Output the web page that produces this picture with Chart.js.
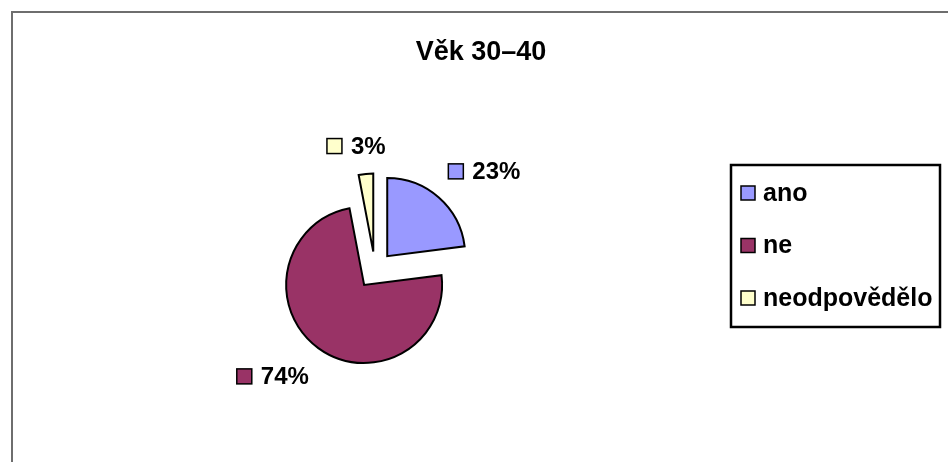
<!DOCTYPE html>
<html>
<head>
<meta charset="utf-8">
<title>Věk 30–40</title>
<script src="https://cdn.jsdelivr.net/npm/chart.js@4/dist/chart.umd.min.js"></script>
<style>
  html, body { margin: 0; padding: 0; background: #fff; }
  #wrap { width: 948px; height: 462px; }
</style>
</head>
<body>
<div id="wrap"><canvas id="pie"></canvas></div>
<script>
// Věk 30–40 — exploded pie with outside labels and boxed legend
const TITLE = 'Věk 30–40';
const categories = ['ano', 'ne', 'neodpovědělo'];
const shares = [23, 74, 3];
const sliceColors = ['#9999ff', '#993366', '#ffffcc'];

const FONT = '"Liberation Sans", Arial, sans-serif';
const EXPLODE = 18.5;   // every slice pulled out from the centre by this many px

function swatch(ctx, x, y, size, color) {
  ctx.fillStyle = color;
  ctx.fillRect(x, y, size, size);
  ctx.lineWidth = 1.5;
  ctx.strokeStyle = '#000';
  ctx.strokeRect(x, y, size, size);
}

// Chart.js' own `offset` also grows the radius of wide slices, so the
// explosion is done here with a plain translate before each arc draws itself.
const explode = {
  id: 'explode',
  beforeDatasetDraw(chart, args) {
    const ctx = chart.ctx;
    args.meta.data.forEach(arc => {
      const mid = (arc.startAngle + arc.endAngle) / 2;
      ctx.save();
      ctx.translate(Math.cos(mid) * EXPLODE, Math.sin(mid) * EXPLODE);
      arc.draw(ctx);
      ctx.restore();
    });
    return false;
  }
};

const decorations = {
  id: 'decorations',
  afterDraw(chart) {
    const ctx = chart.ctx;
    const meta = chart.getDatasetMeta(0);
    const ds = chart.data.datasets[0];
    ctx.save();

    // outer frame (only top/left edges fall inside the window)
    ctx.strokeStyle = '#6e6e6e';
    ctx.lineWidth = 2;
    ctx.strokeRect(12, 12, 1000, 1000);

    // title
    ctx.fillStyle = '#000';
    ctx.font = 'bold 27px ' + FONT;
    ctx.textAlign = 'center';
    ctx.textBaseline = 'middle';
    ctx.fillText(TITLE, 481, 53);

    // data labels outside each slice
    ctx.font = 'bold 24px ' + FONT;
    ctx.textAlign = 'left';
    meta.data.forEach((arc, i) => {
      const p = arc.getProps(['x', 'y', 'startAngle', 'endAngle', 'outerRadius'], true);
      const mid = (p.startAngle + p.endAngle) / 2;
      const dx = Math.cos(mid), dy = Math.sin(mid);
      const r = p.outerRadius + EXPLODE + 28;
      const px = p.x + dx * r;
      let py = p.y + dy * r;
      const text = shares[i] + '%';
      const sq = 15, gap = 9;
      const w = sq + gap + ctx.measureText(text).width;
      let left;
      if (dx > 0.3) left = px - 9;
      else if (dx < -0.3) left = px + 7 - w;
      else left = px - 7 - w / 2;
      if (Math.abs(dx) > 0.3) py += dy * 7;
      swatch(ctx, left, py - sq / 2, sq, ds.backgroundColor[i]);
      ctx.fillStyle = '#000';
      ctx.fillText(text, left + sq + gap, py + 1);
    });

    // legend box
    ctx.lineWidth = 2.5;
    ctx.strokeStyle = '#000';
    ctx.strokeRect(731, 165, 209, 162);
    ctx.font = 'bold 25px ' + FONT;
    categories.forEach((name, i) => {
      const y = 193 + i * 52.5;
      swatch(ctx, 741, y - 7, 14, sliceColors[i]);
      ctx.fillStyle = '#000';
      ctx.fillText(name, 763, y + 1);
    });
    ctx.restore();
  }
};

new Chart(document.getElementById('pie'), {
  type: 'pie',
  data: {
    labels: categories,
    datasets: [{
      data: shares,
      backgroundColor: sliceColors,
      borderColor: '#000',
      borderWidth: 2,
      borderJoinStyle: 'miter',
      radius: 78,
    }],
  },
  options: {
    responsive: true,
    maintainAspectRatio: false,
    animation: false,
    layout: { padding: { left: 255, right: 453, top: 150, bottom: 72 } },
    plugins: {
      legend: { display: false },
      title: { display: false },
      tooltip: { enabled: false },
    },
  },
  plugins: [explode, decorations],
});
</script>
</body>
</html>
